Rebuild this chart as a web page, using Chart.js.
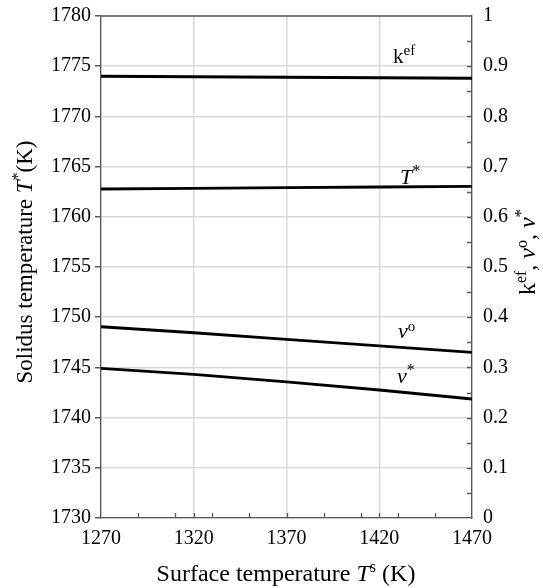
<!DOCTYPE html>
<html>
<head>
<meta charset="utf-8">
<script src="https://cdn.jsdelivr.net/npm/chart.js@4/dist/chart.umd.min.js"></script>
<style>
  html, body { margin: 0; padding: 0; background: #fff; }
  #wrap { width: 543px; height: 588px; }
</style>
</head>
<body>
<div id="wrap"><canvas id="chart" width="543" height="588"></canvas></div>
<script>
// surface temperature T^s (K)
const surfaceTemp = [1270, 1320, 1370, 1420, 1470];
// solidus temperature T* (K), left axis
const solidusTemp = [1762.77, 1762.84, 1762.90, 1762.97, 1763.04];
// dimensionless values, right axis
const kEf = [0.880, 0.879, 0.878, 0.877, 0.876];
const nuO = [0.381, 0.369, 0.356, 0.343, 0.330];
const nuStar = [0.298, 0.286, 0.271, 0.255, 0.237];

const xTicks = [1270, 1320, 1370, 1420, 1470];
const yLeftTicks = [1730, 1735, 1740, 1745, 1750, 1755, 1760, 1765, 1770, 1775, 1780];
const yRightTicks = [0, 0.1, 0.2, 0.3, 0.4, 0.5, 0.6, 0.7, 0.8, 0.9, 1];
const yRightLabels = ['0', '0.1', '0.2', '0.3', '0.4', '0.5', '0.6', '0.7', '0.8', '0.9', '1'];

const SERIF = "'Liberation Serif', 'Times New Roman', serif";
const AXIS_COLOR = '#595959';
const GRID_COLOR = '#d9d9d9';

function pts(ys) {
    return surfaceTemp.map((x, i) => ({ x: x, y: ys[i] }));
}

// no extra room around the axes, the plot box is fixed by the axis sizes
function noPad(s) {
    s.paddingTop = 0;
    s.paddingBottom = 0;
    s.paddingLeft = 0;
    s.paddingRight = 0;
}

// text made of runs: [text, fontSize, italic, raise]
function drawRuns(ctx, runs, x, y, rot, centered) {
    ctx.save();
    ctx.translate(x, y);
    ctx.rotate(rot);
    ctx.textBaseline = 'alphabetic';
    ctx.textAlign = 'left';
    ctx.fillStyle = '#000';
    const font = r => (r[2] ? 'italic ' : '') + r[1] + 'px ' + SERIF;
    let w = 0;
    runs.forEach(r => { ctx.font = font(r); w += ctx.measureText(r[0]).width; });
    let cx = centered ? -w / 2 : 0;
    runs.forEach(r => {
        ctx.font = font(r);
        ctx.fillText(r[0], cx, -(r[3] || 0));
        cx += ctx.measureText(r[0]).width;
    });
    ctx.restore();
}

const seriesLabels = [
    { axis: 'y1', x: 1427.4, y: 0.906, runs: [['k', 21, false, 0], ['ef', 15, false, 8]] },
    { axis: 'y', x: 1431.2, y: 1763.27, runs: [['T', 22, true, 0], ['*', 16, false, 8]] },
    { axis: 'y1', x: 1430.1, y: 0.359, runs: [['ν', 22, true, 0], ['o', 15, false, 7]] },
    { axis: 'y1', x: 1429.6, y: 0.269, runs: [['ν', 22, true, 0], ['*', 16, false, 8]] }
];

const decor = {
    id: 'decor',
    afterDraw(chart) {
        const ctx = chart.ctx;
        const { left, right, top, bottom } = chart.chartArea;
        const xs = chart.scales.x, y1 = chart.scales.y1;

        ctx.save();
        ctx.strokeStyle = AXIS_COLOR;
        ctx.lineWidth = 1.3;
        ctx.beginPath();
        // top frame line
        ctx.moveTo(left, top);
        ctx.lineTo(right, top);
        // inward ticks on the bottom axis, every 20 K plus the majors
        for (let v = 1290; v < 1470; v += 20) {
            const px = Math.round(xs.getPixelForValue(v)) + 0.5;
            ctx.moveTo(px, bottom);
            ctx.lineTo(px, bottom - 5);
        }
        xTicks.slice(1, -1).forEach(v => {
            const px = Math.round(xs.getPixelForValue(v)) + 0.5;
            ctx.moveTo(px, bottom);
            ctx.lineTo(px, bottom - 5);
        });
        // inward ticks on the right axis, every 0.05
        for (let i = 1; i < 20; i++) {
            const py = Math.round(y1.getPixelForValue(i * 0.05)) + 0.5;
            ctx.moveTo(right, py);
            ctx.lineTo(right - 5, py);
        }
        ctx.stroke();
        ctx.restore();

        // curve labels
        seriesLabels.forEach(l => {
            const px = xs.getPixelForValue(l.x);
            const py = chart.scales[l.axis].getPixelForValue(l.y);
            drawRuns(ctx, l.runs, px, py, 0, false);
        });

        // axis titles
        drawRuns(ctx, [
            ['Surface temperature ', 24, false, 0],
            ['T', 24, true, 0],
            ['s', 16, false, 9],
            [' (K)', 24, false, 0]
        ], 286, 581, 0, true);
        drawRuns(ctx, [
            ['Solidus temperature ', 23, false, 0],
            ['T', 23, true, 0],
            ['*', 16, false, 9],
            ['(K)', 23, false, 0]
        ], 32, 262, -Math.PI / 2, true);
        drawRuns(ctx, [
            ['k', 24, false, 0],
            ['ef', 16, false, 9],
            [', ', 24, false, 0],
            ['ν', 24, true, 0],
            ['o', 16, false, 8],
            [', ', 24, false, 0],
            ['ν', 24, true, 0],
            ['*', 17, false, 9]
        ], 535, 252, -Math.PI / 2, true);
    }
};

const tickFont = { family: SERIF, size: 20 };

new Chart(document.getElementById('chart'), {
    type: 'line',
    data: {
        datasets: [
            { label: 'kef', data: pts(kEf), yAxisID: 'y1' },
            { label: 'T*', data: pts(solidusTemp), yAxisID: 'y' },
            { label: 'nu o', data: pts(nuO), yAxisID: 'y1' },
            { label: 'nu *', data: pts(nuStar), yAxisID: 'y1' }
        ].map(d => Object.assign(d, {
            borderColor: '#000',
            borderWidth: 2.8,
            pointRadius: 0,
            tension: 0,
            fill: false
        }))
    },
    options: {
        responsive: false,
        animation: false,
        layout: { padding: { top: 16, left: 0, right: 0, bottom: 0 } },
        plugins: { legend: { display: false }, tooltip: { enabled: false } },
        scales: {
            x: {
                type: 'linear',
                min: 1270,
                max: 1470,
                afterBuildTicks: s => { s.ticks = xTicks.map(v => ({ value: v })); },
                afterFit: s => { s.height = 70; noPad(s); },
                ticks: { font: tickFont, color: '#000', padding: 9, maxRotation: 0, callback: v => String(v) },
                grid: { color: GRID_COLOR, lineWidth: 1.5, drawTicks: false },
                border: { color: AXIS_COLOR, width: 1.3 }
            },
            y: {
                position: 'left',
                min: 1730,
                max: 1780,
                afterBuildTicks: s => { s.ticks = yLeftTicks.map(v => ({ value: v })); },
                afterFit: s => { s.width = 101; noPad(s); },
                ticks: { font: tickFont, color: '#000', padding: 4, callback: v => String(v) },
                grid: { color: GRID_COLOR, lineWidth: 1.5, tickColor: AXIS_COLOR, tickLength: 6 },
                border: { color: AXIS_COLOR, width: 1.3 }
            },
            y1: {
                position: 'right',
                min: 0,
                max: 1,
                afterBuildTicks: s => { s.ticks = yRightTicks.map(v => ({ value: v })); },
                afterFit: s => { s.width = 71; noPad(s); },
                ticks: {
                    font: tickFont,
                    color: '#000',
                    padding: 11,
                    callback: (v, i) => yRightLabels[i]
                },
                grid: { display: false, drawTicks: false },
                border: { color: AXIS_COLOR, width: 1.3 }
            }
        }
    },
    plugins: [decor]
});
</script>
</body>
</html>
